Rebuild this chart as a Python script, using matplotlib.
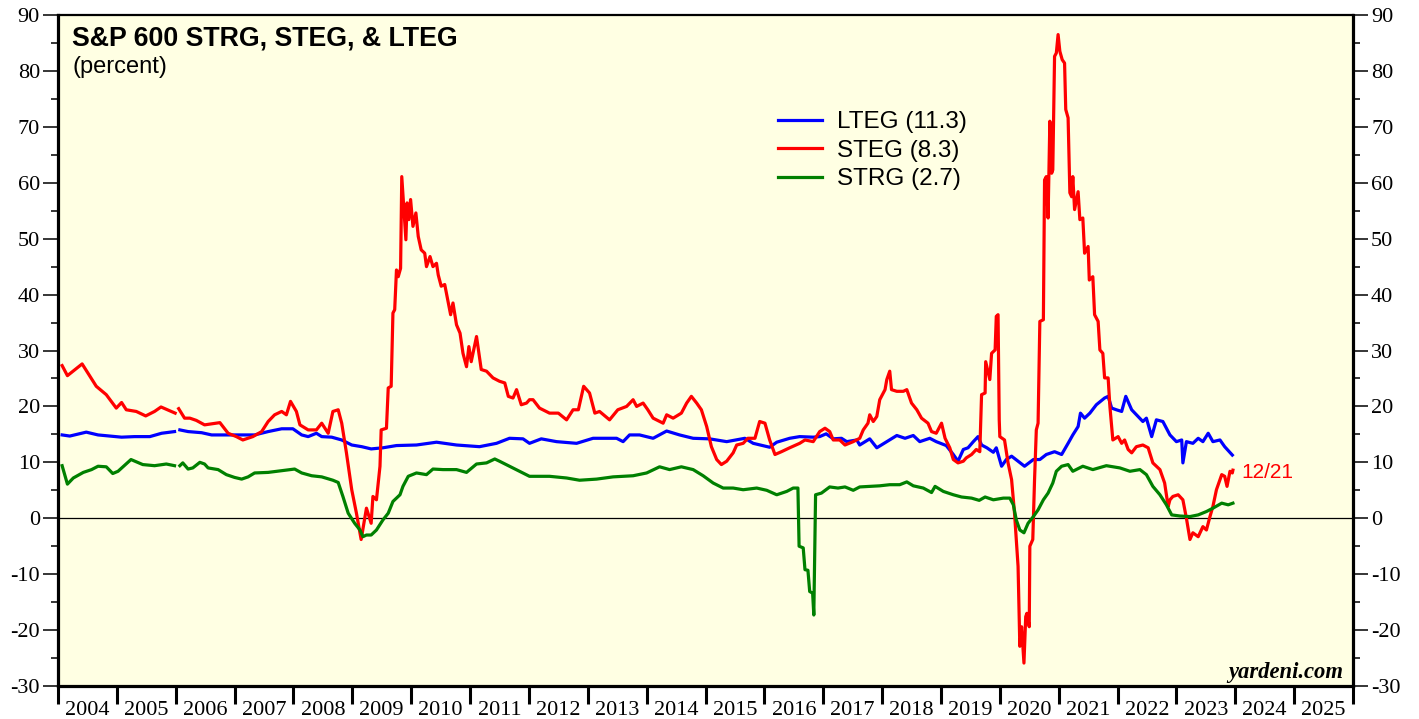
import numpy as np
import matplotlib
matplotlib.use("Agg")
import matplotlib.pyplot as plt
from matplotlib.ticker import FixedLocator, NullFormatter, FixedFormatter

nan = np.nan

# ---------------- data (decimal years, percent) ----------------
steg_x = [2004.07, 2004.16, 2004.41, 2004.65, 2004.82, 2004.99, 2005.08, 2005.16, 2005.33, 2005.49,
          2005.64, 2005.75, 2005.99, 2006.02, 2006.05, 2006.15, 2006.24, 2006.35, 2006.49, 2006.75,
          2006.89, 2007.03, 2007.14, 2007.31, 2007.46, 2007.57, 2007.68, 2007.80, 2007.88, 2007.95,
          2008.05, 2008.11, 2008.25, 2008.39, 2008.48, 2008.59, 2008.67, 2008.76, 2008.82, 2008.90,
          2008.99, 2009.07, 2009.15, 2009.24, 2009.32, 2009.35, 2009.41, 2009.47, 2009.49, 2009.58,
          2009.61, 2009.66, 2009.69, 2009.72, 2009.75, 2009.78, 2009.82, 2009.84, 2009.91, 2009.93,
          2009.96, 2009.99, 2010.03, 2010.08, 2010.12, 2010.17, 2010.23, 2010.26, 2010.32, 2010.37,
          2010.43, 2010.46, 2010.51, 2010.57, 2010.63, 2010.67, 2010.71, 2010.77, 2010.83, 2010.88,
          2010.94, 2010.98, 2011.02, 2011.11, 2011.19, 2011.28, 2011.39, 2011.50, 2011.59, 2011.65,
          2011.73, 2011.79, 2011.87, 2011.96, 2012.01, 2012.07, 2012.18, 2012.35, 2012.50, 2012.64,
          2012.75, 2012.84, 2012.93, 2013.03, 2013.12, 2013.20, 2013.37, 2013.51, 2013.66, 2013.77,
          2013.83, 2013.94, 2014.02, 2014.11, 2014.28, 2014.34, 2014.45, 2014.59, 2014.68, 2014.76,
          2014.85, 2014.93, 2015.02, 2015.10, 2015.19, 2015.27, 2015.36, 2015.47, 2015.53, 2015.64,
          2015.72, 2015.84, 2015.92, 2016.01, 2016.09, 2016.18, 2016.29, 2016.43, 2016.60, 2016.69,
          2016.83, 2016.94, 2017.03, 2017.11, 2017.17, 2017.28, 2017.37, 2017.51, 2017.62, 2017.68,
          2017.76, 2017.79, 2017.85, 2017.91, 2017.96, 2018.05, 2018.08, 2018.13, 2018.16, 2018.25,
          2018.36, 2018.42, 2018.50, 2018.59, 2018.67, 2018.78, 2018.84, 2018.92, 2019.01, 2019.07,
          2019.15, 2019.21, 2019.29, 2019.38, 2019.43, 2019.52, 2019.60, 2019.66, 2019.69, 2019.75,
          2019.76, 2019.83, 2019.86, 2019.92, 2019.94, 2019.97, 2019.99, 2020.00, 2020.08, 2020.14,
          2020.20, 2020.25, 2020.31, 2020.34, 2020.37, 2020.41, 2020.44, 2020.46, 2020.50, 2020.51,
          2020.56, 2020.59, 2020.62, 2020.65, 2020.68, 2020.74, 2020.76, 2020.79, 2020.82, 2020.85,
          2020.88, 2020.90, 2020.93, 2020.96, 2020.99, 2021.02, 2021.06, 2021.10, 2021.12, 2021.16,
          2021.19, 2021.22, 2021.24, 2021.27, 2021.33, 2021.36, 2021.41, 2021.44, 2021.50, 2021.52,
          2021.58, 2021.61, 2021.67, 2021.70, 2021.75, 2021.78, 2021.84, 2021.87, 2021.92, 2022.01,
          2022.07, 2022.12, 2022.18, 2022.24, 2022.32, 2022.43, 2022.52, 2022.60, 2022.72, 2022.80,
          2022.86, 2022.89, 2022.94, 2023.03, 2023.11, 2023.17, 2023.23, 2023.28, 2023.37, 2023.45,
          2023.51, 2023.57, 2023.62, 2023.68, 2023.77, 2023.82, 2023.86, 2023.91, 2023.95, 2023.96]
steg_y = [27.3, 25.5, 27.6, 23.6, 22.1, 19.7, 20.7, 19.4, 19.1, 18.3,
          19.1, 19.9, 18.8, nan, 19.6, 17.9, 17.9, 17.5, 16.7, 17.1,
          15.2, 14.6, 14.0, 14.6, 15.5, 17.3, 18.5, 19.1, 18.5, 20.9,
          19.1, 16.7, 15.8, 15.8, 17.0, 15.2, 19.1, 19.4, 17.0, 11.7,
          5.1, 0.9, -3.8, 1.8, -0.9, 3.9, 3.3, 9.3, 15.8, 16.1,
          23.3, 23.6, 36.7, 37.3, 44.4, 43.2, 44.7, 61.1, 49.8, 56.4,
          53.4, 57.0, 52.2, 54.6, 50.4, 48.0, 47.4, 45.0, 46.8, 45.0,
          45.6, 43.5, 41.5, 41.8, 38.5, 36.4, 38.5, 34.6, 33.1, 29.5,
          27.1, 30.7, 28.0, 32.5, 26.6, 26.3, 25.1, 24.5, 24.2, 21.8,
          21.5, 23.0, 20.3, 20.6, 21.2, 21.2, 19.7, 18.8, 18.8, 17.6,
          19.4, 19.4, 23.6, 22.4, 18.8, 19.1, 17.6, 19.4, 20.0, 21.2,
          20.0, 20.6, 19.4, 17.9, 17.0, 18.5, 17.9, 18.8, 20.6, 21.8,
          20.6, 19.4, 16.4, 12.8, 10.5, 9.6, 10.2, 11.7, 13.1, 13.4,
          14.3, 14.3, 17.3, 17.0, 14.0, 11.4, 11.9, 12.6, 13.4, 14.0,
          13.7, 15.5, 16.1, 15.5, 14.0, 14.0, 13.1, 13.7, 14.3, 15.8,
          17.0, 18.5, 17.3, 18.2, 21.2, 23.0, 24.8, 26.3, 23.0, 22.7,
          22.7, 23.0, 20.6, 19.4, 17.9, 17.0, 15.5, 15.2, 17.0, 14.3,
          12.6, 10.5, 9.9, 10.2, 10.8, 11.4, 12.3, 11.9, 22.1, 22.4,
          28.0, 24.8, 29.5, 30.1, 36.1, 36.4, 17.6, 14.6, 14.0, 9.9,
          6.9, 0.9, -8.6, -22.9, -19.4, -25.9, -17.6, -17.0, -19.4, -5.0,
          -3.8, 6.9, 15.8, 17.0, 35.2, 35.5, 60.5, 61.1, 53.7, 71.0,
          61.7, 62.3, 82.6, 83.2, 86.5, 83.5, 82.0, 81.4, 73.1, 71.6,
          58.2, 57.5, 61.1, 55.2, 58.4, 53.4, 53.7, 47.4, 48.6, 42.6,
          43.2, 36.4, 35.2, 30.1, 29.5, 25.1, 25.1, 20.0, 14.0, 14.6,
          13.4, 14.0, 12.3, 11.7, 12.8, 13.1, 12.6, 9.9, 8.7, 6.3,
          2.1, 3.3, 3.9, 4.2, 3.3, 0.0, -3.8, -2.6, -3.3, -1.5,
          -2.1, 0.3, 2.1, 5.1, 7.8, 7.5, 5.7, 8.4, 8.1, 8.6]

lteg_x = [2004.07, 2004.20, 2004.48, 2004.68, 2005.08, 2005.30, 2005.56, 2005.76, 2005.98, 2006.02,
          2006.07, 2006.21, 2006.44, 2006.61, 2006.89, 2007.12, 2007.34, 2007.57, 2007.80, 2007.99,
          2008.14, 2008.25, 2008.39, 2008.48, 2008.65, 2008.82, 2008.99, 2009.16, 2009.32, 2009.52,
          2009.75, 2010.09, 2010.43, 2010.77, 2011.16, 2011.45, 2011.67, 2011.90, 2012.01, 2012.21,
          2012.47, 2012.81, 2013.09, 2013.49, 2013.60, 2013.71, 2013.88, 2014.11, 2014.34, 2014.56,
          2014.79, 2015.07, 2015.36, 2015.67, 2015.81, 2016.09, 2016.21, 2016.43, 2016.60, 2016.83,
          2016.94, 2017.05, 2017.17, 2017.31, 2017.40, 2017.57, 2017.62, 2017.79, 2017.91, 2018.08,
          2018.25, 2018.39, 2018.53, 2018.64, 2018.81, 2018.92, 2019.09, 2019.21, 2019.29, 2019.38,
          2019.46, 2019.55, 2019.63, 2019.69, 2019.78, 2019.89, 2019.94, 2020.03, 2020.11, 2020.20,
          2020.31, 2020.42, 2020.57, 2020.68, 2020.79, 2020.93, 2021.05, 2021.16, 2021.24, 2021.33,
          2021.37, 2021.44, 2021.53, 2021.64, 2021.78, 2021.84, 2021.90, 2021.98, 2022.07, 2022.14,
          2022.24, 2022.35, 2022.43, 2022.49, 2022.58, 2022.66, 2022.77, 2022.89, 2023.00, 2023.09,
          2023.11, 2023.17, 2023.28, 2023.37, 2023.45, 2023.54, 2023.62, 2023.74, 2023.82, 2023.95]
lteg_y = [14.9, 14.7, 15.4, 14.9, 14.5, 14.6, 14.6, 15.2, 15.5, nan,
          15.8, 15.5, 15.3, 14.9, 14.9, 14.9, 14.9, 15.5, 16.0, 16.0,
          14.9, 14.6, 15.2, 14.6, 14.5, 14.0, 13.1, 12.8, 12.4, 12.6,
          13.0, 13.1, 13.6, 13.1, 12.8, 13.4, 14.3, 14.2, 13.4, 14.2,
          13.7, 13.4, 14.3, 14.3, 13.7, 14.9, 14.9, 14.3, 15.6, 14.9,
          14.3, 14.2, 13.7, 14.3, 13.4, 12.7, 13.6, 14.3, 14.6, 14.5,
          14.6, 15.1, 14.2, 14.3, 13.7, 14.0, 13.1, 14.2, 12.6, 13.7,
          14.8, 14.3, 14.8, 13.7, 14.3, 13.7, 13.0, 11.4, 10.2, 12.3,
          12.6, 13.7, 14.6, 13.1, 12.6, 11.8, 12.6, 9.3, 10.5, 11.1,
          10.2, 9.3, 10.5, 10.5, 11.4, 11.9, 11.4, 13.4, 14.9, 16.4,
          18.8, 17.9, 18.8, 20.3, 21.5, 21.8, 19.7, 19.4, 19.1, 21.8,
          19.4, 18.2, 17.3, 17.9, 14.6, 17.6, 17.3, 14.9, 13.7, 14.0,
          9.9, 13.7, 13.4, 14.3, 13.7, 15.2, 13.7, 14.0, 12.8, 11.3]

strg_x = [2004.07, 2004.16, 2004.26, 2004.43, 2004.57, 2004.68, 2004.82, 2004.93, 2005.02, 2005.24,
          2005.44, 2005.64, 2005.84, 2005.98, 2006.02, 2006.07, 2006.12, 2006.21, 2006.29, 2006.41,
          2006.49, 2006.55, 2006.72, 2006.86, 2007.00, 2007.12, 2007.23, 2007.34, 2007.57, 2007.80,
          2008.02, 2008.14, 2008.31, 2008.48, 2008.67, 2008.76, 2008.84, 2008.93, 2009.04, 2009.13,
          2009.18, 2009.24, 2009.32, 2009.41, 2009.52, 2009.61, 2009.69, 2009.81, 2009.86, 2009.95,
          2010.09, 2010.26, 2010.37, 2010.54, 2010.77, 2010.94, 2011.11, 2011.28, 2011.42, 2011.50,
          2011.67, 2011.84, 2012.01, 2012.35, 2012.64, 2012.86, 2013.15, 2013.43, 2013.77, 2014.00,
          2014.22, 2014.39, 2014.59, 2014.79, 2014.96, 2015.13, 2015.30, 2015.47, 2015.64, 2015.87,
          2016.04, 2016.21, 2016.38, 2016.49, 2016.57, 2016.59, 2016.66, 2016.69, 2016.74, 2016.77,
          2016.82, 2016.84, 2016.87, 2016.97, 2017.11, 2017.25, 2017.37, 2017.51, 2017.62, 2017.79,
          2017.96, 2018.13, 2018.30, 2018.42, 2018.53, 2018.70, 2018.84, 2018.90, 2019.04, 2019.21,
          2019.35, 2019.52, 2019.65, 2019.75, 2019.89, 2020.06, 2020.17, 2020.23, 2020.28, 2020.34,
          2020.41, 2020.48, 2020.57, 2020.65, 2020.74, 2020.82, 2020.90, 2020.96, 2021.05, 2021.16,
          2021.24, 2021.41, 2021.58, 2021.81, 2022.04, 2022.21, 2022.38, 2022.49, 2022.60, 2022.72,
          2022.83, 2022.92, 2023.06, 2023.23, 2023.37, 2023.51, 2023.62, 2023.77, 2023.88, 2023.96]
strg_y = [9.4, 6.1, 7.2, 8.2, 8.7, 9.3, 9.2, 8.0, 8.4, 10.5,
          9.6, 9.4, 9.7, 9.4, nan, 9.4, 9.9, 8.8, 9.0, 10.0,
          9.7, 9.0, 8.7, 7.8, 7.3, 7.0, 7.4, 8.1, 8.2, 8.5,
          8.8, 8.1, 7.6, 7.4, 6.8, 6.4, 3.9, 0.9, -0.9, -2.1,
          -3.3, -3.0, -3.0, -2.1, -0.3, 0.9, 3.0, 4.2, 5.7, 7.5,
          8.1, 7.8, 8.8, 8.7, 8.7, 8.2, 9.7, 9.9, 10.6, 10.2,
          9.3, 8.4, 7.5, 7.5, 7.2, 6.8, 7.0, 7.4, 7.6, 8.1,
          9.2, 8.7, 9.2, 8.7, 7.6, 6.3, 5.4, 5.4, 5.1, 5.4,
          5.0, 4.2, 4.8, 5.4, 5.4, -5.0, -5.3, -9.2, -9.3, -13.1,
          -13.4, -17.3, 4.2, 4.5, 5.6, 5.4, 5.6, 5.0, 5.6, 5.7,
          5.8, 6.0, 6.0, 6.5, 5.8, 5.4, 4.6, 5.7, 4.8, 4.2,
          3.8, 3.6, 3.2, 3.8, 3.3, 3.6, 3.6, 2.4, -0.3, -2.1,
          -2.6, -0.9, 0.3, 1.5, 3.3, 4.5, 6.3, 8.4, 9.3, 9.6,
          8.4, 9.3, 8.7, 9.4, 9.0, 8.4, 8.7, 7.8, 5.7, 4.2,
          2.4, 0.6, 0.4, 0.3, 0.6, 1.2, 1.8, 2.7, 2.4, 2.7]

series_labels = ["LTEG (11.3)", "STEG (8.3)", "STRG (2.7)"]
year_labels = [str(y) for y in range(2004, 2026)]
y_ticks = list(range(-30, 91, 10))
title = "S&P 600 STRG, STEG, & LTEG"
subtitle = "(percent)"
last_date = "12/21"

# ---------------- figure ----------------
fig = plt.figure(figsize=(14.19, 7.19), dpi=100)
ax = fig.add_axes([58 / 1419, 1 - 686 / 719, (1353 - 58) / 1419, (686 - 15) / 719])
ax.set_facecolor("#ffffe3")

ax.axhline(0, color="black", lw=0.9, zorder=1)
ax.plot(lteg_x, lteg_y, color="#0000ff", lw=2.3, label=series_labels[0], zorder=3)
ax.plot(steg_x, steg_y, color="#ff0000", lw=2.3, label=series_labels[1], zorder=3)
ax.plot(strg_x, strg_y, color="#008000", lw=2.3, label=series_labels[2], zorder=3)

ax.set_xlim(2004, 2026)
ax.set_ylim(-30, 90)

serif = "Liberation Serif"
sans = "Liberation Sans"

# y axis: both sides
ax.yaxis.set_major_locator(FixedLocator(y_ticks))
ax.yaxis.set_minor_locator(FixedLocator([v + 5 for v in y_ticks[:-1]]))
ax.tick_params(axis="y", which="major", direction="out", length=11, width=1.1,
               left=True, right=True, labelleft=True, labelright=True, labelsize=16, pad=2)
ax.tick_params(axis="y", which="minor", direction="out", length=5, width=1.1,
               left=True, right=True)
ax.set_yticklabels([str(v) for v in y_ticks], fontfamily=serif)

# x axis: ticks at year boundaries, labels centered between them
ax.xaxis.set_major_locator(FixedLocator(list(range(2004, 2027))))
ax.xaxis.set_major_formatter(NullFormatter())
ax.xaxis.set_minor_locator(FixedLocator([y + 0.5 for y in range(2004, 2026)]))
ax.xaxis.set_minor_formatter(FixedFormatter(year_labels))
ax.tick_params(axis="x", which="major", direction="out", length=13, width=2.2, bottom=True, top=False)
ax.tick_params(axis="x", which="minor", length=0, labelsize=16, pad=11, bottom=True, top=False)
for lab in ax.xaxis.get_minorticklabels():
    lab.set_fontfamily(serif)

for side in ["left", "right", "bottom"]:
    ax.spines[side].set_linewidth(2.3)
ax.spines["top"].set_linewidth(1.6)

# titles
ax.text(14.5 / 1295, 1 - 10 / 671, title, transform=ax.transAxes, fontsize=19.3, fontweight="bold",
        fontfamily=sans, va="top", ha="left")
ax.text(14.5 / 1295, 1 - 41 / 671, subtitle, transform=ax.transAxes, fontsize=17,
        fontfamily=sans, va="top", ha="left")

leg = ax.legend(loc="upper left", bbox_to_anchor=(720 / 1295, 1 - 96 / 671), frameon=False,
                prop={"family": sans, "size": 17.5}, handlelength=1.8, handletextpad=0.62,
                labelspacing=0.27, borderaxespad=0, borderpad=0)

ax.text(steg_x[-1] + 0.15, steg_y[-1] - 0.4, last_date, color="#ff0000", fontsize=15,
        fontfamily=sans, va="center", ha="left")

ax.text(1 - 10 / 1295, 3 / 671, "yardeni.com", transform=ax.transAxes, fontsize=16.3,
        fontfamily=serif, fontweight="bold", fontstyle="italic", ha="right", va="bottom")

fig.savefig("out.png", dpi=100)
